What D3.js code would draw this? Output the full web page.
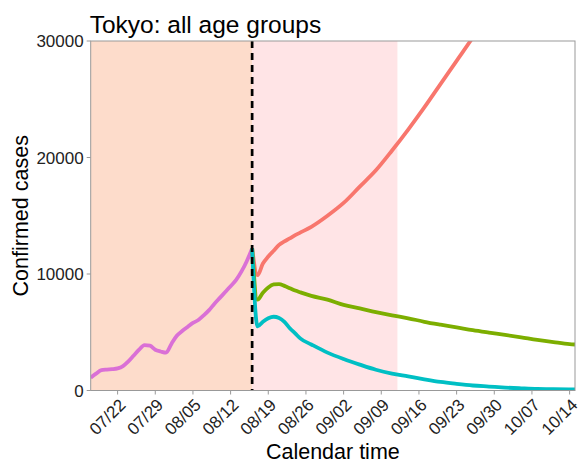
<!DOCTYPE html>
<html lang="en">
<head>
  <meta charset="UTF-8">
  <title>Tokyo: all age groups</title>
  <style>
    body, html {
      margin: 0;
      padding: 0;
      background: #fff;
    }
    svg text {
      font-family: "Liberation Sans", Arial, sans-serif;
      fill: #000;
    }
  </style>
</head>
<body>
  <svg id="svg" width="580" height="464"></svg>
  <script src="https://d3js.org/d3.v7.min.js"></script>
  <script>
    // observed cases, one value per day from 07/17 to 08/16
    const obsStart = '2021-07-17'
    const observed = [1100, 1450, 1750, 1800, 1830, 1900, 2100, 2500, 3000, 3500,
      3900, 3850, 3500, 3350, 3250, 4000, 4700, 5100, 5450, 5800,
      6050, 6450, 6900, 7450, 7950, 8450, 8950, 9470, 10200, 11100, 12200]

    // projections, days after 08/16
    const projDays = [0, 1, 2, 3, 4, 5, 6, 7, 8, 9, 11, 14, 17, 20, 23, 26, 29, 32, 35, 38, 41, 44, 47, 50, 53, 56, 59, 60]
    const redCases = [12200, 9900, 10900, 11500, 12000, 12500, 12800, 13050, 13330, 13570, 14050, 15000, 16100, 17500,
      18900, 20600, 22400, 24300, 26300, 28300, 30300, 32400, 34600, 36900, 39300, 41800, 44400, 45300]
    const oliveCases = [12200, 7800, 8400, 8850, 9100, 9130, 8980, 8780, 8580, 8420, 8120, 7800, 7350, 7050,
      6730, 6450, 6200, 5900, 5650, 5420, 5180, 4970, 4770, 4560, 4340, 4150, 3980, 3950]
    const tealCases = [12200, 5500, 5900, 6200, 6330, 6230, 5900, 5350, 4900, 4450, 3950, 3250, 2700, 2220,
      1780, 1450, 1210, 960, 735, 570, 430, 340, 250, 185, 130, 110, 100, 100]

    const cutDate = '2021-08-16'
    const pinkEnd = '2021-09-12'
    const xStart = '2021-07-17'
    const xEnd = '2021-10-15'
    const xTickDates = ['2021-07-22', '2021-07-29', '2021-08-05', '2021-08-12', '2021-08-19', '2021-08-26',
      '2021-09-02', '2021-09-09', '2021-09-16', '2021-09-23', '2021-09-30', '2021-10-07', '2021-10-14']
    const yTicks = [0, 10000, 20000, 30000]

    function draw() {
      const parse = d3.timeParse('%Y-%m-%d')
      const fmt = d3.timeFormat('%m/%d')

      const pLeft = 90.7, pRight = 575, pTop = 41, pBottom = 390.5

      const x = d3.scaleTime()
        .domain([parse(xStart), parse(xEnd)])
        .range([pLeft, pRight])
      const y = d3.scaleLinear()
        .domain([0, 30000])
        .range([pBottom, pTop])

      const svg = d3.select('#svg')

      svg.append('defs').append('clipPath')
        .attr('id', 'panel')
        .append('rect')
        .attr('x', pLeft).attr('y', pTop)
        .attr('width', pRight - pLeft).attr('height', pBottom - pTop)

      // shaded periods
      svg.append('rect')
        .attr('x', x(parse(xStart)))
        .attr('y', pTop)
        .attr('width', x(parse(cutDate)) - x(parse(xStart)))
        .attr('height', pBottom - pTop)
        .attr('fill', '#fddccb')
      svg.append('rect')
        .attr('x', x(parse(cutDate)))
        .attr('y', pTop)
        .attr('width', x(parse(pinkEnd)) - x(parse(cutDate)))
        .attr('height', pBottom - pTop)
        .attr('fill', '#ffe4e6')

      const obsData = observed.map((v, i) => ({ date: d3.timeDay.offset(parse(obsStart), i), v }))
      const toSeries = vals => projDays.map((k, i) => ({ date: d3.timeDay.offset(parse(cutDate), k), v: vals[i] }))

      const line = d3.line()
        .x(d => x(d.date))
        .y(d => y(d.v))
        .curve(d3.curveMonotoneX)

      const lines = svg.append('g').attr('clip-path', 'url(#panel)')
      const series = [
        { data: obsData, color: '#da70d6' },
        { data: toSeries(redCases), color: '#f8766d' },
        { data: toSeries(oliveCases), color: '#7cae00' },
        { data: toSeries(tealCases), color: '#00bfc4' }
      ]
      lines.selectAll('path')
        .data(series)
        .join('path')
        .attr('d', d => line(d.data))
        .attr('fill', 'none')
        .attr('stroke', d => d.color)
        .attr('stroke-width', 3.8)
        .attr('stroke-linejoin', 'round')

      // vertical dashed line at the cut date
      svg.append('line')
        .attr('x1', x(parse(cutDate))).attr('x2', x(parse(cutDate)))
        .attr('y1', pTop).attr('y2', pBottom)
        .attr('stroke', '#000')
        .attr('stroke-width', 2.7)
        .attr('stroke-dasharray', '7,5')

      // panel border
      svg.append('rect')
        .attr('x', pLeft).attr('y', pTop)
        .attr('width', pRight - pLeft).attr('height', pBottom - pTop)
        .attr('fill', 'none')
        .attr('stroke', '#999')
        .attr('stroke-width', 1)

      // y axis
      const yAxis = svg.append('g')
      yAxis.selectAll('line')
        .data(yTicks)
        .join('line')
        .attr('x1', pLeft - 4).attr('x2', pLeft)
        .attr('y1', d => y(d)).attr('y2', d => y(d))
        .attr('stroke', '#999')
      yAxis.selectAll('text')
        .data(yTicks)
        .join('text')
        .attr('x', pLeft - 7)
        .attr('y', d => y(d))
        .attr('dy', '0.36em')
        .attr('text-anchor', 'end')
        .style('font-size', '17px')
        .style('fill', '#222')
        .text(d => d)

      // x axis
      const xTicks = xTickDates.map(parse)
      const xAxis = svg.append('g')
      xAxis.selectAll('line')
        .data(xTicks)
        .join('line')
        .attr('x1', d => x(d)).attr('x2', d => x(d))
        .attr('y1', pBottom).attr('y2', pBottom + 4)
        .attr('stroke', '#999')
      xAxis.selectAll('text')
        .data(xTicks)
        .join('text')
        .attr('text-anchor', 'end')
        .attr('transform', d => `translate(${x(d) + 9}, 406) rotate(-45)`)
        .style('font-size', '17px')
        .style('fill', '#222')
        .text(d => fmt(d))

      // titles
      svg.append('text')
        .attr('x', pLeft - 1)
        .attr('y', 33)
        .style('font-size', '24.5px')
        .text('Tokyo: all age groups')

      svg.append('text')
        .attr('x', (pLeft + pRight) / 2)
        .attr('y', 459)
        .attr('text-anchor', 'middle')
        .style('font-size', '21.5px')
        .text('Calendar time')

      svg.append('text')
        .attr('transform', `translate(28, ${(pTop + pBottom) / 2}) rotate(-90)`)
        .attr('text-anchor', 'middle')
        .style('font-size', '21.5px')
        .text('Confirmed cases')
    }
    draw()
  </script>
</body>
</html>
